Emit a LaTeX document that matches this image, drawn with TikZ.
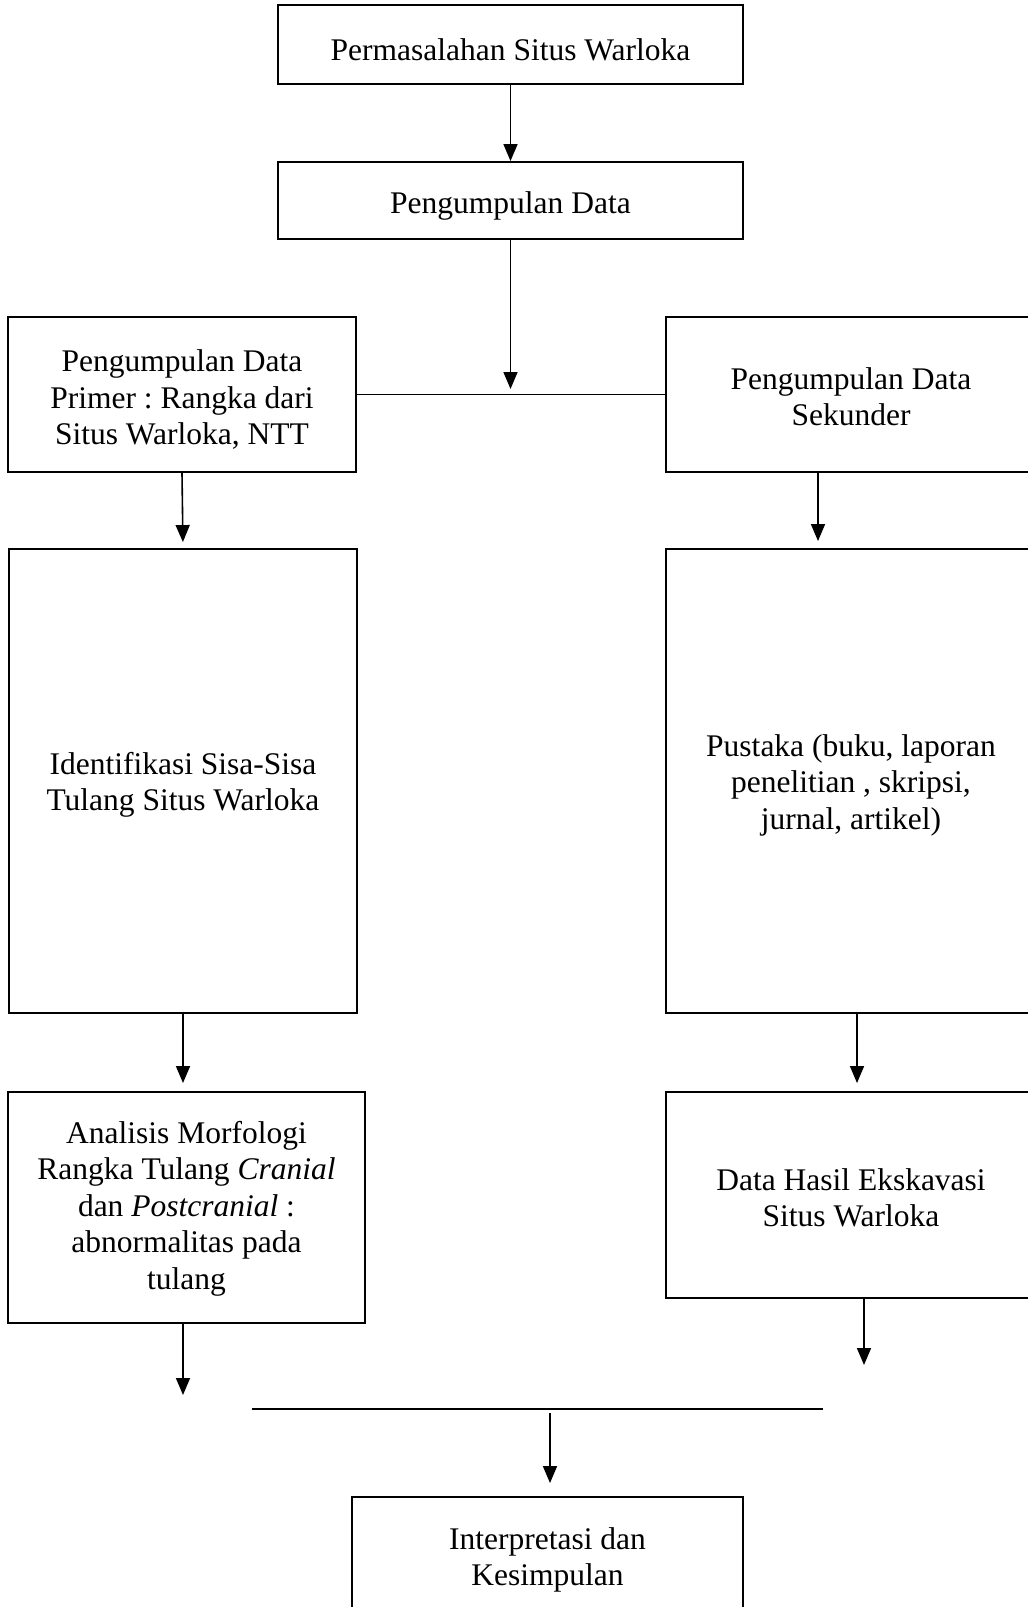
\documentclass[tikz,border=0pt]{standalone}
\usepackage{fontspec}
\setmainfont{Liberation Serif}
\usetikzlibrary{arrows.meta}
\frenchspacing
\begin{document}
\begin{tikzpicture}[x=1pt,y=-1pt,
  box/.style={draw, line width=1.9pt, inner sep=0pt},
  txt/.style={align=center, inner sep=0pt, font=\fontsize{31.5}{36.5}\selectfont},
  arr/.style={line width=1.6pt, -{Triangle[length=17pt 0 0,width=14pt 0 0]}},
  ln/.style={line width=1.9pt}]
\useasboundingbox (0,0) rectangle (1028,1607);
\clip (0,0) rectangle (1028,1607);
% boxes
\node[box, minimum width=465pt, minimum height=79pt] (p1) at (510.5,44.5) {};
\node[box, minimum width=465pt, minimum height=77pt] (p2) at (510.5,200.5) {};
\node[box, minimum width=348pt, minimum height=155pt] (prim) at (182,394.5) {};
\node[box, minimum width=370pt, minimum height=155pt] (sek) at (851,394.5) {};
\node[box, minimum width=348pt, minimum height=464pt] (ident) at (183,781) {};
\node[box, minimum width=370pt, minimum height=464pt] (pus) at (851,781) {};
\node[box, minimum width=357pt, minimum height=231pt] (ana) at (186.5,1207.5) {};
\node[box, minimum width=370pt, minimum height=206pt] (dat) at (851,1195) {};
\node[box, minimum width=391pt, minimum height=126pt] (interp) at (547.5,1560) {};
% texts
\node[txt] (p1t) at ([yshift=-5pt]p1.center) {Permasalahan Situs Warloka};
\node[txt] (p2t) at ([yshift=-5pt]p2.center) {Pengumpulan Data};
\node[txt] (primt) at ([yshift=-5pt]prim.center) {Pengumpulan Data\\Primer : Rangka dari\\Situs Warloka, NTT};
\node[txt] (sekt) at ([yshift=-2pt]sek.center) {Pengumpulan Data\\Sekunder};
\node[txt] (identt) at ([yshift=-4pt]ident.center) {Identifikasi Sisa-Sisa\\Tulang Situs Warloka};
\node[txt] (pust) at ([yshift=-4pt]pus.center) {Pustaka (buku, laporan\\penelitian , skripsi,\\jurnal, artikel)};
\node[txt] (anat) at ([yshift=-1pt]ana.center) {Analisis Morfologi\\Rangka Tulang \textit{Cranial}\\dan \textit{Postcranial} :\\abnormalitas pada\\tulang};
\node[txt] (datt) at ([yshift=-3pt]dat.center) {Data Hasil Ekskavasi\\Situs Warloka};
\node[txt] (interpt) at (interp.center) {Interpretasi dan\\Kesimpulan};
% connectors
\coordinate (j1) at (510.5,389);
\coordinate (e1) at (183,1395);
\coordinate (e2) at (864,1365);
\coordinate (hl) at (252,1409);
\coordinate (hr) at (823,1409);
\coordinate (d0) at (550,1413);
\draw[arr] (p1) -- (p2);
\draw[arr] (p2) -- (j1);
\draw[ln] (prim.east) -- (sek.west);
\draw[arr, shorten >=6pt] (prim.south) -- (ident.north);
\draw[arr, shorten >=7pt] ([xshift=-33pt]sek.south) -- ([xshift=-33pt]pus.north);
\draw[arr, shorten >=8pt] (ident.south) -- (ana.north -| ident.south);
\draw[arr, shorten >=8pt] ([xshift=6pt]pus.south) -- ([xshift=6pt]dat.north);
\draw[arr] (ana.south -| e1) -- (e1);
\draw[arr] (dat.south -| e2) -- (e2);
\draw[ln] (hl) -- (hr);
\draw[arr, shorten >=13pt] (d0) -- (interp.north -| d0);
\end{tikzpicture}
\end{document}
